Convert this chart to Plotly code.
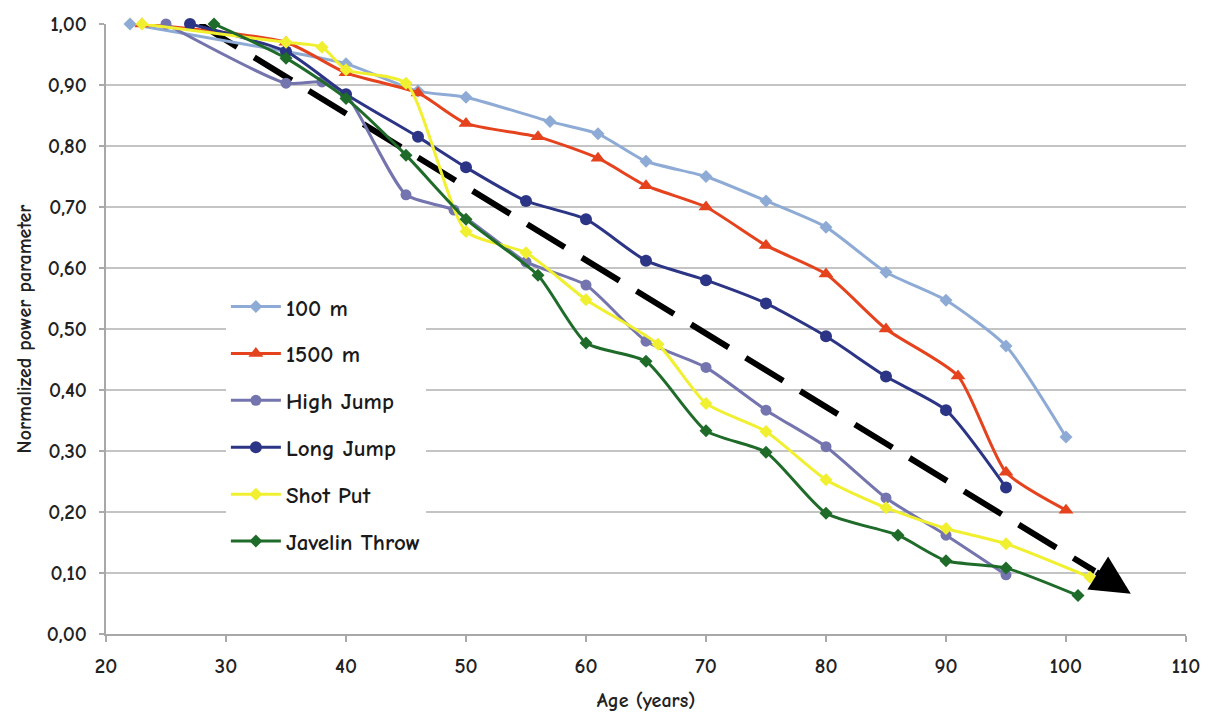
import plotly.graph_objects as go

# ---- data ----
age_100m = [22, 35, 40, 46, 50, 57, 61, 65, 70, 75, 80, 85, 90, 95, 100]
val_100m = [1.00, 0.955, 0.935, 0.89, 0.88, 0.84, 0.82, 0.775, 0.75, 0.71, 0.667, 0.593, 0.547, 0.472, 0.323]

age_1500m = [23, 35, 40, 46, 50, 56, 61, 65, 70, 75, 80, 85, 91, 95, 100]
val_1500m = [1.00, 0.97, 0.92, 0.887, 0.837, 0.815, 0.78, 0.735, 0.70, 0.637, 0.59, 0.50, 0.423, 0.265, 0.203]

age_hj = [25, 35, 38, 40, 45, 49, 55, 60, 65, 70, 75, 80, 85, 90, 95]
val_hj = [1.00, 0.903, 0.905, 0.885, 0.72, 0.695, 0.61, 0.572, 0.48, 0.437, 0.367, 0.307, 0.223, 0.162, 0.097]

age_lj = [27, 35, 40, 46, 50, 55, 60, 65, 70, 75, 80, 85, 90, 95]
val_lj = [1.00, 0.955, 0.885, 0.815, 0.765, 0.71, 0.68, 0.612, 0.58, 0.542, 0.488, 0.422, 0.367, 0.24]

age_sp = [23, 35, 38, 40, 45, 50, 55, 60, 66, 70, 75, 80, 85, 90, 95, 102]
val_sp = [1.00, 0.97, 0.962, 0.925, 0.903, 0.66, 0.625, 0.548, 0.475, 0.378, 0.332, 0.253, 0.207, 0.173, 0.148, 0.093]

age_jt = [29, 35, 40, 45, 50, 56, 60, 65, 70, 75, 80, 86, 90, 95, 101]
val_jt = [1.00, 0.944, 0.878, 0.785, 0.68, 0.588, 0.477, 0.447, 0.333, 0.298, 0.198, 0.162, 0.12, 0.108, 0.063]

trend_x = [27.8, 102.4]
trend_y = [1.00, 0.103]
arrow_tip = (105.4, 0.066)

series_names = ["100 m", "1500 m", "High Jump", "Long Jump", "Shot Put", "Javelin Throw"]
x_ticks = [20, 30, 40, 50, 60, 70, 80, 90, 100, 110]
y_ticks = [0.0, 0.1, 0.2, 0.3, 0.4, 0.5, 0.6, 0.7, 0.8, 0.9, 1.0]

colors = ["#8EABD6", "#E5431E", "#7474AE", "#2C3585", "#F0F030", "#1F6B2A"]
symbols = ["diamond", "triangle-up", "circle", "circle", "diamond", "diamond"]
sizes = [10, 13, 11, 12, 10, 10]

data = [(age_100m, val_100m), (age_1500m, val_1500m), (age_hj, val_hj),
        (age_lj, val_lj), (age_sp, val_sp), (age_jt, val_jt)]

FONT = "Comic Sans MS, Comic Neue, Lato, Noto Sans, sans-serif"
TXT = "#222222"

fig = go.Figure()

# trend dashed line (drawn under the series)
fig.add_trace(go.Scatter(
    x=trend_x, y=trend_y, mode="lines", showlegend=False, hoverinfo="skip",
    line=dict(color="black", width=6, dash="44px,20px"), cliponaxis=False))

for i, (name, (xs, ys)) in enumerate(zip(series_names, data)):
    fig.add_trace(go.Scatter(
        x=xs, y=ys, mode="lines+markers", name=name, legendgroup=name,
        line=dict(color=colors[i], width=3, shape="spline", smoothing=0.6),
        marker=dict(symbol=symbols[i], size=sizes[i], color=colors[i],
                    line=dict(width=0)),
        cliponaxis=False))

fig.add_annotation(
    x=arrow_tip[0], y=arrow_tip[1], ax=trend_x[1], ay=trend_y[1],
    xref="x", yref="y", axref="x", ayref="y", text="",
    showarrow=True, arrowhead=2, arrowsize=1.3, arrowwidth=6,
    arrowcolor="black", standoff=0)

fig.update_layout(
    width=1210, height=720,
    margin=dict(l=98, r=32, t=16, b=94, autoexpand=False),
    paper_bgcolor="white", plot_bgcolor="white",
    separators=", ",
    font=dict(family=FONT, color=TXT, size=15),
    legend=dict(x=0.111, y=0.572, xanchor="left", yanchor="top",
                bgcolor="white",
                font=dict(family=FONT, size=23, color="#1a1a1a", weight="bold"),
                tracegroupgap=14, itemwidth=50),
    showlegend=True,
)

fig.update_xaxes(
    range=[20, 110], tickvals=x_ticks, ticks="outside", ticklen=6,
    tickcolor="#AAAAAA", tickwidth=2, showline=True, linecolor="#A8A8A8",
    linewidth=2, showgrid=False, zeroline=False, automargin=False,
    ticklabelstandoff=6,
    tickfont=dict(family=FONT, size=21, color=TXT, weight="bold"),
    title=dict(text="Age (years)",
               font=dict(family=FONT, size=20, color=TXT, weight="bold"),
               standoff=16))

fig.update_yaxes(
    range=[0, 1.0], tickvals=y_ticks, tickformat=".2f", ticks="outside",
    ticklen=5, tickcolor="#AAAAAA", tickwidth=2, showline=True,
    linecolor="#A8A8A8", linewidth=2, showgrid=True, gridcolor="#C4C4C4",
    gridwidth=2, zeroline=False, automargin=False,
    ticklabelstandoff=8,
    tickfont=dict(family=FONT, size=21, color=TXT, weight="bold"),
    title=dict(text="Normalized power parameter",
               font=dict(family=FONT, size=20, color=TXT, weight="bold"),
               standoff=10))

fig.write_html("out.html")
